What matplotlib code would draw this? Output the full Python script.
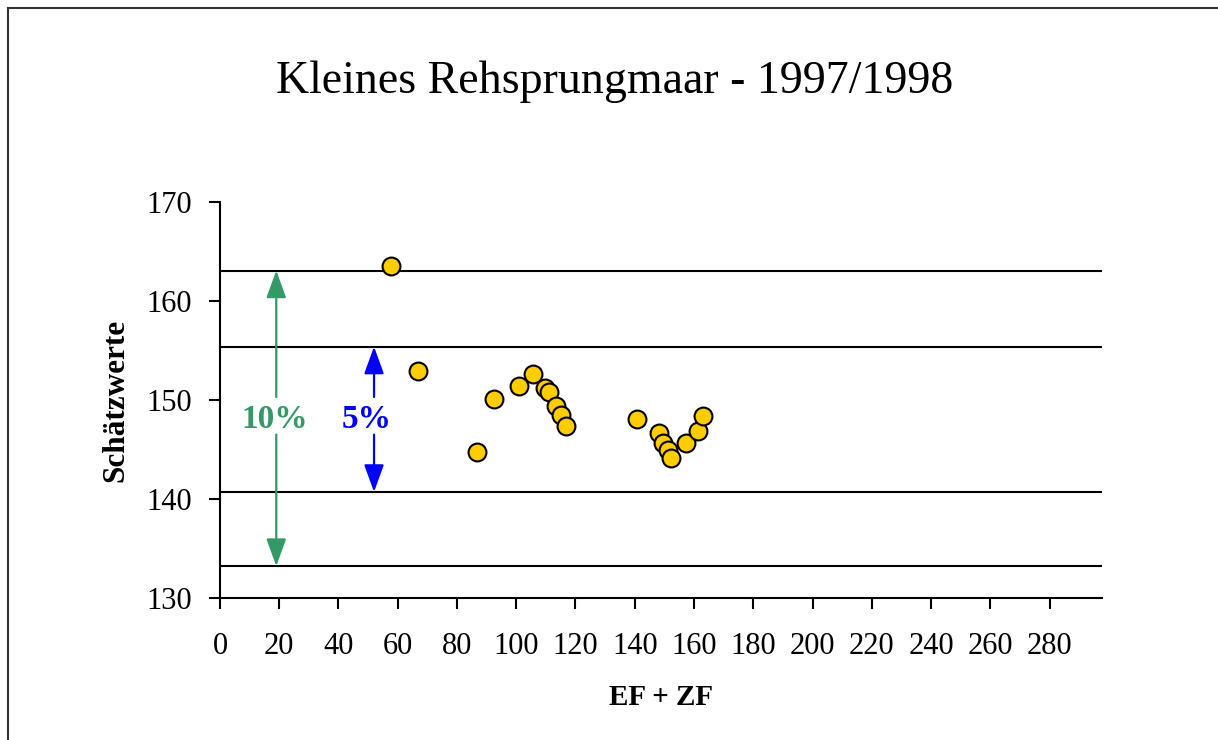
'''
scatter of estimates (Schätzwerte) against EF + ZF with 5% / 10% bands
'''

import matplotlib
matplotlib.use("Agg")
import matplotlib.pyplot as plt
from matplotlib.lines import Line2D

# DATA:
ef_zf = [57.7, 66.9, 86.7, 92.6, 100.8, 105.7, 109.8, 110.9, 113.3, 115.1,
         116.7, 140.6, 148.2, 149.7, 151.3, 152.2, 157.2, 161.3, 163.1]
schaetzwerte = [163.6, 152.9, 144.7, 150.1, 151.4, 152.6, 151.2, 150.8, 149.4, 148.5,
                147.4, 148.1, 146.7, 145.7, 144.9, 144.1, 145.7, 146.9, 148.4]
# band limits: +10%, +5%, -5%, -10%
band_lines = [163.1, 155.4, 140.7, 133.2]
x_ticks = list(range(0, 281, 20))
y_ticks = [130, 140, 150, 160, 170]

SERIF = ["Liberation Serif", "DejaVu Serif"]
GREEN = "#339966"
BLUE = "#0000FF"


def draw_band_arrow(ax, x, top, bottom, gap_top, gap_bottom, color):
    ''' double arrow between two band lines, interrupted for the label '''
    style = "-|>,head_length=1.68,head_width=0.61"
    props = dict(arrowstyle=style, color=color, lw=1.6,
                 shrinkA=0, shrinkB=0, mutation_scale=10)
    ax.annotate("", xy=(x, top), xytext=(x, gap_top), arrowprops=props)
    ax.annotate("", xy=(x, bottom), xytext=(x, gap_bottom), arrowprops=props)


def main():
    plt.rcParams["font.family"] = SERIF
    fig = plt.figure(figsize=(12.18, 7.4), dpi=100)
    ax = fig.add_axes([0.1806, 0.1923, 0.9045 - 0.1806, 0.7266 - 0.1923])

    for yv in band_lines:
        ax.axhline(yv, color="black", lw=1.5, zorder=1)

    ax.scatter(ef_zf, schaetzwerte, s=165, color="#FFCC00", edgecolors="black",
               linewidths=1.5, zorder=3)

    draw_band_arrow(ax, 19, band_lines[0], band_lines[3], 150.3, 146.5, GREEN)
    draw_band_arrow(ax, 52, band_lines[1], band_lines[2], 150.3, 146.5, BLUE)
    ax.text(18.5, 148.0, "10%", color=GREEN, fontsize=24, fontweight="bold",
            ha="center", va="center")
    ax.text(49.5, 148.0, "5%", color=BLUE, fontsize=24, fontweight="bold",
            ha="center", va="center")

    ax.set_xlim(0, 297.6)
    ax.set_ylim(130, 170)
    ax.set_xticks(x_ticks)
    ax.set_yticks(y_ticks)
    ax.tick_params(labelsize=22, width=1.5, length=8, color="black")
    ax.tick_params(axis="x", pad=17)
    ax.tick_params(axis="y", pad=12)
    ax.spines[["top", "right"]].set_visible(False)
    ax.spines[["left", "bottom"]].set_linewidth(1.5)

    ax.set_xlabel("EF + ZF", fontsize=21, fontweight="bold", labelpad=16)
    ax.set_ylabel("Schätzwerte", fontsize=22.5, fontweight="bold", labelpad=12)
    fig.text(0.505, 0.889, "Kleines Rehsprungmaar - 1997/1998", fontsize=33,
             ha="center", va="center")

    # frame of the chart area (top and left edges visible)
    fig.add_artist(Line2D([8 / 1218, 1.0], [1 - 8 / 740, 1 - 8 / 740],
                          transform=fig.transFigure, color="#333333", lw=1.5))
    fig.add_artist(Line2D([8 / 1218, 8 / 1218], [0.0, 1 - 8 / 740],
                          transform=fig.transFigure, color="#333333", lw=1.5))

    fig.savefig("out.png", dpi=100)


if __name__ == "__main__":
    main()
